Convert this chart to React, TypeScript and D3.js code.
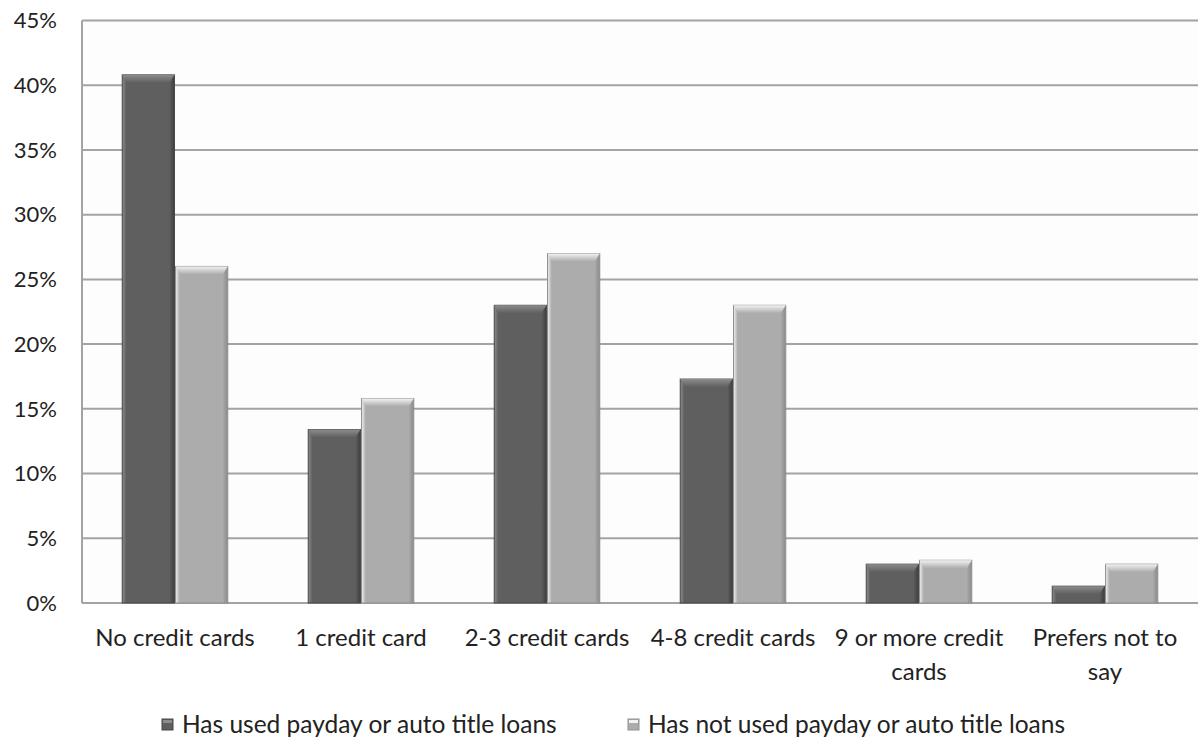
import React from "react";
import * as d3 from "d3";

const categories = [
  ["No credit cards"],
  ["1 credit card"],
  ["2-3 credit cards"],
  ["4-8 credit cards"],
  ["9 or more credit", "cards"],
  ["Prefers not to", "say"],
];
const seriesNames = [
  "Has used payday or auto title loans",
  "Has not used payday or auto title loans",
];
const usedValues = [40.8, 13.4, 23.0, 17.3, 3.0, 1.3];
const notUsedValues = [26.0, 15.8, 27.0, 23.0, 3.3, 3.0];
const yTicks = [0, 5, 10, 15, 20, 25, 30, 35, 40, 45];

const W = 1202;
const H = 739;
const left = 82;
const right = 1198;
const top = 20.5;
const bottom = 603;
const FONT = "Lato, 'Open Sans', sans-serif";

const palettes = [
  { base: "#5f5f5f", light: "#8c8c8c", dark: "#3f3f3f", edge: "#474747", id: "d" },
  { base: "#acacac", light: "#f2f2f2", dark: "#8a8a8a", edge: "#8f8f8f", id: "l" },
];

function Bar({ x, y, w, h, p }: any) {
  const bev = Math.min(8, h / 2);
  const side = 5;
  return (
    <g>
      <rect x={x} y={y} width={w} height={h} fill={`url(#side-${p.id})`} stroke={p.edge} strokeWidth={1} />
      <polygon
        points={`${x},${y} ${x + w},${y} ${x + w - side},${y + bev} ${x + side},${y + bev}`}
        fill={`url(#top-${p.id})`}
      />
    </g>
  );
}

export default function App() {
  const x0 = d3.scaleBand<number>().domain(d3.range(categories.length)).range([left, right]).paddingInner(0).paddingOuter(0);
  const x1 = d3.scaleBand<number>().domain([0, 1]).range([0, x0.bandwidth()]).paddingOuter(0.755).paddingInner(0.02);
  const y = d3.scaleLinear().domain([0, 45]).range([bottom, top]);
  const series = [usedValues, notUsedValues];

  return (
    <div style={{ position: "absolute", left: 0, top: 0 }}>
      <svg width={W} height={H} style={{ display: "block", background: "#fff" }}>
        <defs>
          {palettes.map((p) => (
            <React.Fragment key={p.id}>
              <linearGradient id={`side-${p.id}`} x1="0" x2="1" y1="0" y2="0">
                <stop offset="0" stopColor={p.light} />
                <stop offset="0.08" stopColor={p.base} />
                <stop offset="0.9" stopColor={p.base} />
                <stop offset="1" stopColor={p.dark} />
              </linearGradient>
              <linearGradient id={`top-${p.id}`} x1="0" x2="0" y1="0" y2="1">
                <stop offset="0" stopColor={p.light} />
                <stop offset="1" stopColor={p.base} />
              </linearGradient>
            </React.Fragment>
          ))}
        </defs>
        <rect x={left} y={top} width={right - left} height={bottom - top} fill="#fdfdfd" />
        {yTicks.map((t) => (
          <g key={t}>
            <line x1={left} x2={right} y1={y(t)} y2={y(t)} stroke="#a3a3a3" strokeWidth={2} />
            <text x={57} y={y(t)} dy="0.35em" textAnchor="end" fontFamily={FONT} fontSize={22} fill="#222">
              {t}%
            </text>
          </g>
        ))}
        <line x1={left} x2={left} y1={top} y2={bottom} stroke="#a3a3a3" strokeWidth={2} />
        {categories.map((c, i) =>
          series.map((vals, s) => {
            const bx = (x0(i) as number) + (x1(s) as number);
            const by = y(vals[i]);
            return <Bar key={`${i}-${s}`} x={bx} y={by} w={x1.bandwidth()} h={bottom - by} p={palettes[s]} />;
          })
        )}
        {categories.map((lines, i) => (
          <text key={i} x={(x0(i) as number) + x0.bandwidth() / 2} y={646} textAnchor="middle" fontFamily={FONT} fontSize={24} fill="#222">
            {lines.map((l, k) => (
              <tspan key={k} x={(x0(i) as number) + x0.bandwidth() / 2} dy={k === 0 ? 0 : 34}>
                {l}
              </tspan>
            ))}
          </text>
        ))}
        {seriesNames.map((n, s) => {
          const lx = s === 0 ? 162 : 628;
          const p = palettes[s];
          return (
            <g key={n}>
              <rect x={lx} y={719} width={11} height={11} fill={p.base} stroke={p.edge} strokeWidth={1} />
              <rect x={lx + 1} y={720} width={9} height={3} fill={p.light} />
              <text x={lx + 20} y={733} fontFamily={FONT} fontSize={24.5} fill="#222">
                {n}
              </text>
            </g>
          );
        })}
      </svg>
    </div>
  );
}
